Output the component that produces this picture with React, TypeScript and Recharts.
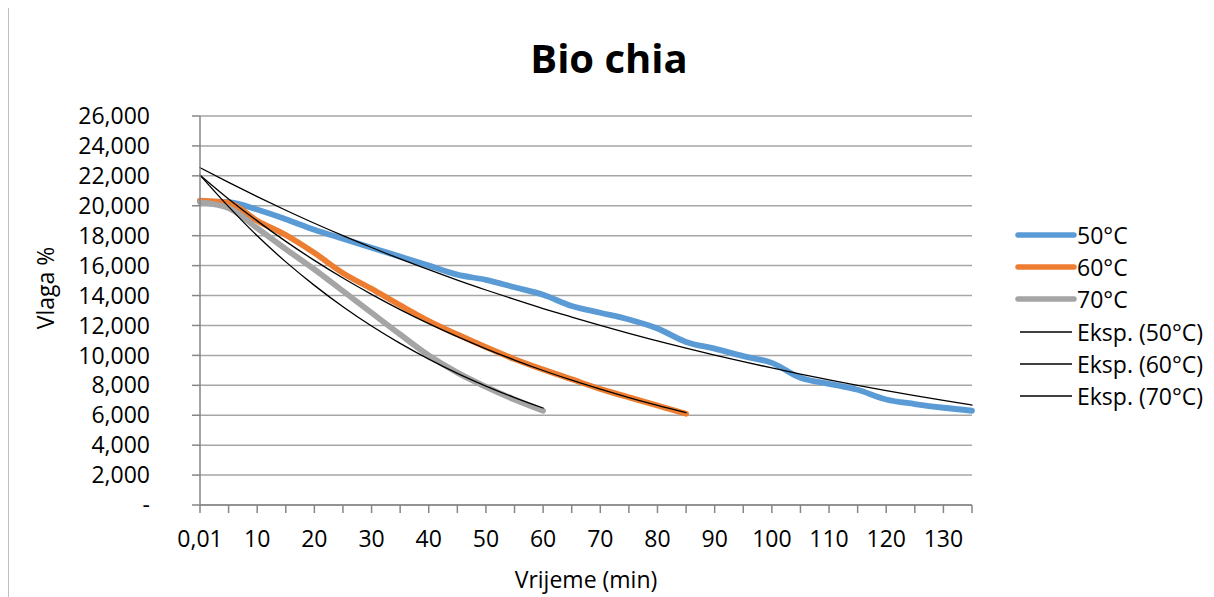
import { LineChart, Line, XAxis, YAxis, CartesianGrid, Legend } from "recharts";

const FONT = "'Open Sans', 'Noto Sans', sans-serif";
const GRID = "#a6a6a6";
const AXIS = "#868686";

// time in minutes (category axis, Excel style "0,01")
const CATEGORIES = [
  "0,01", "5", "10", "15", "20", "25", "30", "35", "40", "45", "50", "55", "60", "65",
  "70", "75", "80", "85", "90", "95", "100", "105", "110", "115", "120", "125", "130", "135",
];
const Y_TICKS = [0, 2000, 4000, 6000, 8000, 10000, 12000, 14000, 16000, 18000, 20000, 22000, 24000, 26000];

// measured moisture
const TEMP_50 = [
  20300, 20250, 19750, 19100, 18400, 17800, 17200, 16600, 16000, 15400, 15050, 14550, 14050, 13300,
  12850, 12400, 11800, 10900, 10450, 9950, 9500, 8500, 8100, 7700, 7050, 6750, 6500, 6300,
];
const TEMP_60 = [
  20350, 20200, 19000, 18050, 16850, 15500, 14450, 13350, 12300, 11400, 10550, 9750, 9050, 8400,
  7750, 7200, 6650, 6100,
];
const TEMP_70 = [20230, 19850, 18500, 17100, 15750, 14300, 12850, 11400, 10000, 8850, 7900, 7050, 6300];

// exponential trend lines
const TREND_50 = [
  22550, 21560, 20610, 19700, 18830, 18000, 17210, 16450, 15730, 15030, 14370, 13740, 13130, 12560,
  12000, 11470, 10970, 10480, 10020, 9580, 9160, 8750, 8370, 8000, 7650, 7310, 6990, 6680,
];
const TREND_60 = [
  22050, 20460, 18990, 17620, 16350, 15170, 14080, 13060, 12120, 11250, 10440, 9690, 8990, 8340,
  7740, 7180, 6660, 6180,
];
const TREND_70 = [22050, 19940, 17990, 16250, 14680, 13250, 11960, 10800, 9750, 8800, 7950, 7180, 6480];

const data = CATEGORIES.map((t, i) => ({
  t,
  s50: TEMP_50[i] ?? null,
  s60: TEMP_60[i] ?? null,
  s70: TEMP_70[i] ?? null,
  e50: TREND_50[i] ?? null,
  e60: TREND_60[i] ?? null,
  e70: TREND_70[i] ?? null,
}));

const fmtY = (v: number) => (v === 0 ? "-" : v.toLocaleString("en-US"));

function XTick(props: any) {
  const { x, y, payload, index } = props;
  if (index % 2 !== 0) return <g />;
  return (
    <text x={x} y={y} dy="0.71em" textAnchor="middle" fontSize={23} fill="#000" fontFamily={FONT}>
      {payload.value}
    </text>
  );
}

function LegendBox(props: any) {
  const items = props.payload ?? [];
  return (
    <div>
      {items.map((e: any) => {
        const thin = String(e.value).startsWith("Eksp");
        return (
          <svg key={e.value} width={200} height={32.2} style={{ display: "block" }}>
            <line
              x1={thin ? 10 : 8}
              x2={thin ? 62 : 64}
              y1={16}
              y2={16}
              stroke={e.color}
              strokeWidth={thin ? 1.5 : 5.5}
              strokeLinecap={thin ? "butt" : "round"}
            />
            <text x={67} y={16} dominantBaseline="central" fontSize={23} fill="#000" fontFamily={FONT}>
              {e.value}
            </text>
          </svg>
        );
      })}
    </div>
  );
}

export default function App() {
  const lineBase = {
    type: "monotone" as const,
    dot: false,
    activeDot: false,
    isAnimationActive: false,
    strokeLinecap: "round" as const,
    strokeLinejoin: "round" as const,
  };
  return (
    <div
      style={{
        position: "relative",
        width: 1200,
        height: 600,
        border: "1px solid #bfbfbf",
        marginTop: -1,
        fontFamily: FONT,
      }}
    >
      <LineChart width={1200} height={600} data={data} margin={{ top: 108, right: 237, bottom: 43, left: 0 }}>
        <CartesianGrid horizontal vertical={false} stroke={GRID} strokeWidth={1.5} />
        <XAxis
          dataKey="t"
          interval={0}
          height={60}
          tickSize={8}
          tickMargin={18}
          tick={(p: any) => <XTick {...p} />}
          axisLine={{ stroke: AXIS, strokeWidth: 1.5 }}
          tickLine={{ stroke: AXIS, strokeWidth: 1.5 }}
        />
        <YAxis
          domain={[0, 26000]}
          ticks={Y_TICKS}
          interval={0}
          width={191}
          tickSize={8}
          tickMargin={42}
          tickFormatter={fmtY}
          tick={{ fontSize: 23, fill: "#000", fontFamily: FONT }}
          axisLine={{ stroke: AXIS, strokeWidth: 1.5 }}
          tickLine={{ stroke: AXIS, strokeWidth: 1.5 }}
        />
        <Legend
          layout="horizontal"
          align="center"
          verticalAlign="middle"
          content={(p: any) => <LegendBox {...p} />}
          wrapperStyle={{ position: "absolute", left: 1001, top: 211, width: 200, height: 194 }}
        />
        <Line {...lineBase} dataKey="s50" name="50°C" stroke="#5b9bd5" strokeWidth={5.8} />
        <Line {...lineBase} dataKey="s60" name="60°C" stroke="#ed7d31" strokeWidth={5.8} />
        <Line {...lineBase} dataKey="s70" name="70°C" stroke="#a5a5a5" strokeWidth={5.8} />
        <Line {...lineBase} dataKey="e50" name="Eksp. (50°C)" stroke="#000" strokeWidth={1.3} />
        <Line {...lineBase} dataKey="e60" name="Eksp. (60°C)" stroke="#000" strokeWidth={1.3} />
        <Line {...lineBase} dataKey="e70" name="Eksp. (70°C)" stroke="#000" strokeWidth={1.3} />
      </LineChart>
      <svg
        width={1200}
        height={600}
        style={{ position: "absolute", left: 0, top: 0, pointerEvents: "none" }}
      >
        <text x={600} y={65} textAnchor="middle" fontSize={40} fontWeight="bold" fill="#000" fontFamily={FONT}>
          Bio chia
        </text>
        <text x={577} y={580} textAnchor="middle" fontSize={23} fill="#000" fontFamily={FONT}>
          Vrijeme (min)
        </text>
        <text
          x={36}
          y={280}
          textAnchor="middle"
          dominantBaseline="central"
          fontSize={23}
          fill="#000"
          fontFamily={FONT}
          transform="rotate(-90 36 280)"
        >
          Vlaga %
        </text>
      </svg>
    </div>
  );
}
